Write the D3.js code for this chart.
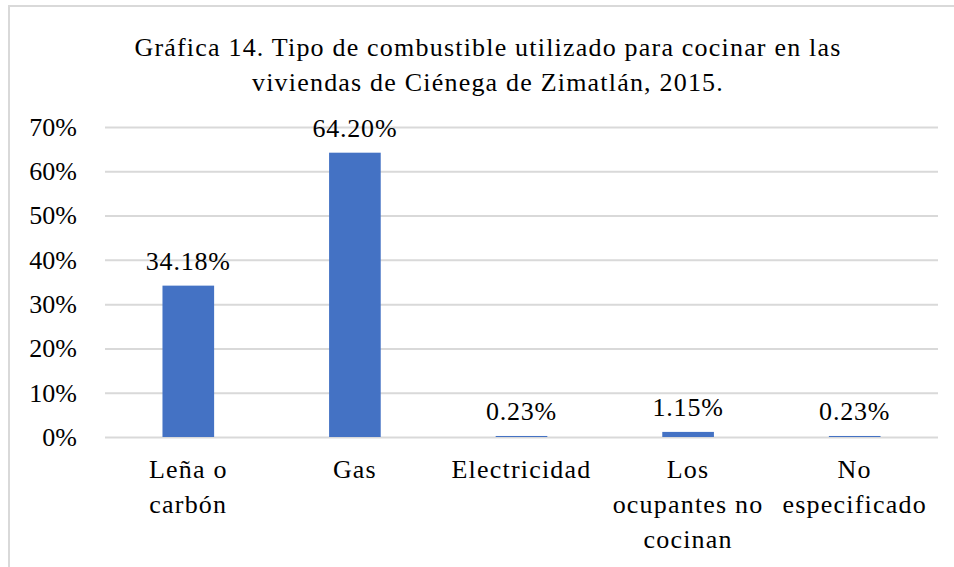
<!DOCTYPE html>
<html>
<head>
<meta charset="utf-8">
<script src="https://cdn.jsdelivr.net/npm/d3@7"></script>
<style>
  body { margin: 0; background: #fff; }
  svg text { font-family: "Liberation Serif", Tinos, "Times New Roman", "DejaVu Serif", serif; fill: #000; }
</style>
</head>
<body>
<div id="chart"></div>
<script>
// Tipo de combustible para cocinar - Ciénega de Zimatlán 2015

const categories = ["Leña o carbón", "Gas", "Electricidad", "Los ocupantes no cocinan", "No especificado"];
const categoryLines = [["Leña o", "carbón"], ["Gas"], ["Electricidad"], ["Los", "ocupantes no", "cocinan"], ["No", "especificado"]];
const values = [34.18, 64.20, 0.23, 1.15, 0.23];
const yTicks = [0, 10, 20, 30, 40, 50, 60, 70];
const titleLines = ["Gráfica 14. Tipo de combustible utilizado para cocinar en las", "viviendas de Ciénega de Zimatlán, 2015."];

const W = 954, H = 567;
const margin = {top: 127, right: 16, bottom: 130, left: 105};
const width = W - margin.left - margin.right;
const height = H - margin.top - margin.bottom;

const svg = d3.select("#chart")
  .append("svg")
  .attr("width", W)
  .attr("height", H);

// chart border (only top/left visible in the original)
svg.append("rect")
  .attr("x", 9)
  .attr("y", 6)
  .attr("width", 960)
  .attr("height", 580)
  .style("fill", "none")
  .style("stroke", "#d9d9d9")
  .style("stroke-width", 2);

// title
svg.append("text")
  .attr("text-anchor", "middle")
  .style("font-size", "26px")
  .style("letter-spacing", "1.2px")
  .selectAll("tspan")
  .data(titleLines)
  .join("tspan")
    .attr("x", 488)
    .attr("y", (d, i) => 56 + i * 35)
    .text(d => d);

const g = svg.append("g")
  .attr("transform", `translate(${margin.left}, ${margin.top})`);

const x = d3.scaleBand()
  .domain(categories)
  .range([0, width])
  .paddingInner(0.69)
  .paddingOuter(0.345);

const y = d3.scaleLinear()
  .domain([0, 70])
  .range([height, 0]);

// gridlines
g.append("g")
  .call(d3.axisLeft(y).tickValues(yTicks).tickSize(-width).tickFormat(""))
  .call(a => a.select(".domain").remove())
  .selectAll("line")
    .style("stroke", "#d9d9d9")
    .style("stroke-width", 2);

// y labels
g.append("g")
  .call(d3.axisLeft(y).tickValues(yTicks).tickSize(0).tickPadding(28).tickFormat(d => d + "%"))
  .call(a => a.select(".domain").remove())
  .selectAll("text")
    .style("font-size", "26px");

// bars
g.selectAll(".bar")
  .data(values)
  .join("rect")
    .attr("class", "bar")
    .attr("x", (d, i) => x(categories[i]))
    .attr("y", d => y(d))
    .attr("width", x.bandwidth())
    .attr("height", d => height - y(d))
    .style("fill", "#4472c4");

// data labels
g.selectAll(".lbl")
  .data(values)
  .join("text")
    .attr("class", "lbl")
    .attr("x", (d, i) => x(categories[i]) + x.bandwidth() / 2)
    .attr("y", d => y(d) - 16)
    .attr("text-anchor", "middle")
    .style("font-size", "26px")
    .style("letter-spacing", "0.8px")
    .text(d => d.toFixed(2) + "%");

// x labels
const xl = g.selectAll(".xl")
  .data(categoryLines)
  .join("text")
    .attr("class", "xl")
    .attr("text-anchor", "middle")
    .style("font-size", "26px")
    .style("letter-spacing", "1.2px");

xl.selectAll("tspan")
  .data((d, i) => d.map(t => ({t: t, i: i})))
  .join("tspan")
    .attr("x", d => x(categories[d.i]) + x.bandwidth() / 2)
    .attr("y", (d, j) => height + 41 + j * 35)
    .text(d => d.t);
</script>
</body>
</html>
